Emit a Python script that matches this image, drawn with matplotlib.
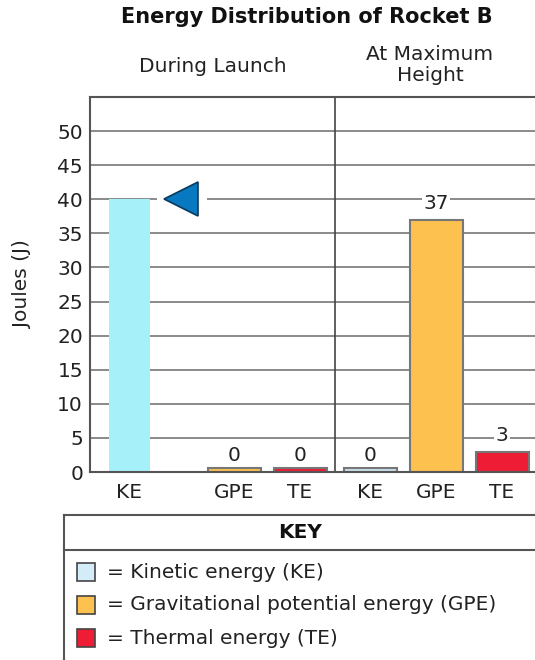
import matplotlib
matplotlib.use("Agg")
import matplotlib.pyplot as plt
from matplotlib.patches import Rectangle
from matplotlib.lines import Line2D

# ---- data ----
title = "Energy Distribution of Rocket B"
groups = ["During Launch", "At Maximum\nHeight"]
categories = ["KE", "GPE", "TE", "KE", "GPE", "TE"]
values = [40, 0, 0, 0, 37, 3]
show_labels = [False, True, True, True, True, True]
ylabel = "Joules (J)"
yticks = [0, 5, 10, 15, 20, 25, 30, 35, 40, 45, 50]
key_labels = ["= Kinetic energy (KE)",
              "= Gravitational potential energy (GPE)",
              "= Thermal energy (TE)"]
arrow_value = 40

# ---- styles / positions ----
bar_colors = ["#a6f0fa", "#fcc14f", "#ee1c35", "#c8e2ec", "#fcc14f", "#ee1c35"]
bar_edges = ["none", "#777777", "#777777", "#777777", "#777777", "#777777"]
key_colors = ["#d4ecf8", "#fcc14f", "#ee1c35"]
x_pos = [39.5, 144, 210, 280, 346, 412]          # axis units (px from left spine)
widths = [41, 53, 53, 53, 53, 53]
stub = 0.6
divider_x = 245
fs = 14.5

plt.rcParams['font.family'] = ['DejaVu Sans']
fig = plt.figure(figsize=(5.35, 6.6), dpi=100)
W, H = 535, 660
ax = fig.add_axes([90 / W, 1 - 472 / H, 1 - 90 / W, (472 - 97) / H])
ax.set_xlim(0, 445)
ax.set_ylim(0, 55)

for y in yticks[1:]:
    ax.axhline(y, color="#8a8a8a", lw=1.4, zorder=1)

for x, w, v, c, e in zip(x_pos, widths, values, bar_colors, bar_edges):
    ax.bar(x, max(v, stub), width=w, color=c, edgecolor=e,
           linewidth=1.5 if e != "none" else 0, zorder=3)

for x, v, s in zip(x_pos, values, show_labels):
    if s:
        ax.text(x, v + 2.4, str(v), ha="center", va="center", fontsize=fs,
                color="#222222", zorder=4,
                bbox=dict(facecolor="white", edgecolor="none", pad=1.0))

ax.axvline(divider_x, color="#444444", lw=1.2, zorder=2)

# arrow marker
ax.add_patch(Rectangle((67, arrow_value - 0.5), 50, 1.0, facecolor="white",
                       edgecolor="none", zorder=2))
ax.plot([91], [arrow_value], marker="<", markersize=24, color="#0878c0",
        markeredgecolor="#0a3a5c", markeredgewidth=1.2, zorder=5)

ax.set_xticks(x_pos)
ax.set_xticklabels(categories, fontsize=fs, color="#222222")
ax.set_yticks(yticks)
ax.set_yticklabels([str(t) for t in yticks], fontsize=fs, color="#222222")
ax.tick_params(axis="both", length=0)
ax.tick_params(axis="x", pad=8)
ax.tick_params(axis="y", pad=5)
ax.set_ylabel(ylabel, fontsize=fs, color="#222222", labelpad=18)

for sp in ["left", "top", "bottom"]:
    ax.spines[sp].set_color("#555555")
    ax.spines[sp].set_linewidth(1.5)
ax.spines["right"].set_visible(False)
ax.spines["bottom"].set_zorder(4)

# group headers & title
fig.text(307 / W, 1 - 17 / H, title, ha="center", va="center",
         fontsize=15, fontweight="bold", color="#111111")
fig.text(213 / W, 1 - 67 / H, groups[0], ha="center", va="center",
         fontsize=fs, color="#222222")
fig.text(430 / W, 1 - 65 / H, groups[1], ha="center", va="center",
         fontsize=fs, color="#222222", linespacing=1.1)

# key
kx0, ky0 = 64, 515
def fx(px):
    return px / W
def fy(py):
    return 1 - py / H
fig.add_artist(Line2D([fx(kx0), fx(kx0)], [fy(ky0), 0], color="#555555", lw=1.5))
fig.add_artist(Line2D([fx(kx0), 1], [fy(ky0), fy(ky0)], color="#555555", lw=1.5))
fig.add_artist(Line2D([fx(kx0), 1], [fy(550), fy(550)], color="#555555", lw=1.5))
fig.text(fx(300), fy(533), "KEY", ha="center", va="center", fontsize=fs,
         fontweight="bold", color="#111111")
rows = [572, 605, 638]
for r, c, lab in zip(rows, key_colors, key_labels):
    fig.add_artist(Rectangle((fx(77), fy(r + 9)), 18 / W, 18 / H,
                             facecolor=c, edgecolor="#444444", lw=1.2,
                             transform=fig.transFigure))
    fig.text(fx(107), fy(r), lab, ha="left", va="center", fontsize=fs,
             color="#222222")

fig.savefig("out.png", dpi=100)
